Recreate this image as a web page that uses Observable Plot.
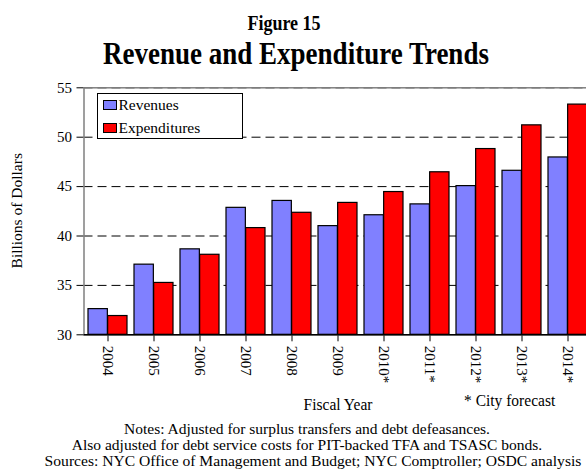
<!DOCTYPE html>
<html><head><meta charset="utf-8">
<script src="https://cdn.jsdelivr.net/npm/d3@7"></script>
<script src="https://cdn.jsdelivr.net/npm/@observablehq/plot@0.6"></script>
<style>
html,body{margin:0;padding:0;width:586px;height:470px;overflow:hidden;background:#fff;}
#wrap{position:relative;width:586px;height:470px;overflow:hidden;font-family:"Liberation Serif","Times New Roman",serif;color:#000;}
.t{position:absolute;white-space:nowrap;line-height:1;}
.legend{position:absolute;background:#fff;border:1px solid #000;box-sizing:border-box;}
.sw{position:absolute;width:14px;height:10px;border:1px solid #000;box-sizing:border-box;}
</style></head>
<body><div id="wrap"></div>
<script>
// ---- data ----
const yearLabels = ["2004","2005","2006","2007","2008","2009","2010*","2011*","2012*","2013*","2014*"];
const revenues = [32.6, 37.1, 38.65, 42.85, 43.55, 41.0, 42.1, 43.2, 45.05, 46.6, 47.95];
const expenditures = [31.9, 35.25, 38.1, 40.8, 42.35, 43.35, 44.45, 46.45, 48.8, 51.2, 53.3];
const seriesNames = ["Revenues", "Expenditures"];
const seriesColors = ["#8080ff", "#ff0000"];
const yTicks = [30, 35, 40, 45, 50, 55];
const titleText = "Figure 15";
const mainTitle = "Revenue and Expenditure Trends";
const yLabel = "Billions of Dollars";
const xLabel = "Fiscal Year";
const forecastNote = "* City forecast";
const notes = [
  "Notes: Adjusted for surplus transfers and debt defeasances.",
  "Also adjusted for debt service costs for PIT-backed TFA and TSASC bonds.",
  "Sources: NYC Office of Management and Budget; NYC Comptroller; OSDC analysis"
];

const rows = yearLabels.map((y, i) => ({year: y, rev: revenues[i], exp: expenditures[i]}));

const wrap = document.getElementById("wrap");
const FONT = '"Liberation Serif","Times New Roman",serif';

function addText(str, o) {
  const d = document.createElement("div");
  d.className = "t";
  d.textContent = str;
  d.style.fontSize = o.size + "px";
  if (o.bold) d.style.fontWeight = "bold";
  d.style.top = (o.baseline - 0.8375 * o.size) + "px";
  if (o.cx != null) {
    d.style.left = (o.cx - 400) + "px";
    d.style.width = "800px";
    d.style.textAlign = "center";
  } else {
    d.style.left = o.left + "px";
  }
  if (o.sy) {
    d.style.transformOrigin = `50% ${0.8375 * o.size}px`;
    d.style.transform = `scaleY(${o.sy})`;
  }
  (o.parent || wrap).appendChild(d);
  return d;
}

// ---- plot ----
const W = 600, H = 330, TOP = 70;
const mL = 83.5, mR = W - 592, mT = 87.3 - TOP, mB = TOP + H - 334.3;
const pi = 0.15, po = 0.075;
const step = (W - mR - mL) / (yearLabels.length - pi + 2 * po);
const half = step * (1 - pi) / 2;
const yDomain = [yTicks[0], yTicks[yTicks.length - 1]];

const chart = Plot.plot({
  width: W, height: H,
  marginLeft: mL, marginRight: mR, marginTop: mT, marginBottom: mB,
  style: {fontFamily: FONT, fontSize: "15px", background: "transparent", maxWidth: "none", overflow: "visible", color: "#000"},
  x: {domain: yearLabels, paddingInner: pi, paddingOuter: po, tickSize: 7, tickPadding: 4, tickRotate: 90, label: null},
  y: {domain: yDomain, ticks: yTicks, tickSize: 7, tickPadding: 5, label: null},
  marks: [
    Plot.ruleY(yTicks.slice(1), {stroke: "#000", strokeWidth: 1, strokeDasharray: "9,5"}),
    Plot.barY(rows, {x: "year", y1: yDomain[0], y2: "rev", fill: seriesColors[0], stroke: "#000", strokeWidth: 1.2, insetRight: half}),
    Plot.barY(rows, {x: "year", y1: yDomain[0], y2: "exp", fill: seriesColors[1], stroke: "#000", strokeWidth: 1.2, insetLeft: half}),
    Plot.frame({stroke: "#808080", strokeWidth: 1.5}),
    Plot.ruleY([yDomain[0]], {stroke: "#000", strokeWidth: 1.5})
  ]
});
chart.style.position = "absolute";
chart.style.left = "0px";
chart.style.top = TOP + "px";
wrap.appendChild(chart);

// ---- titles ----
addText(titleText, {cx: 284, baseline: 30, size: 18, bold: true, sy: 1.15});
addText(mainTitle, {cx: 296, baseline: 65, size: 27, bold: true, sy: 1.15});

// ---- y label ----
const yl = document.createElement("div");
yl.className = "t";
yl.textContent = yLabel;
yl.style.fontSize = "15.5px";
yl.style.left = (17 - 100) + "px";
yl.style.width = "200px";
yl.style.textAlign = "center";
yl.style.top = (210.5 - 7.75) + "px";
yl.style.transform = "rotate(-90deg)";
yl.style.transformOrigin = "50% 50%";
wrap.appendChild(yl);

// ---- legend ----
const lg = document.createElement("div");
lg.className = "legend";
lg.style.left = "97px"; lg.style.top = "92.5px";
lg.style.width = "146px"; lg.style.height = "46px";
wrap.appendChild(lg);
seriesNames.forEach((name, i) => {
  const sw = document.createElement("div");
  sw.className = "sw";
  sw.style.background = seriesColors[i];
  sw.style.left = (101.5 - 97) + "px";
  sw.style.top = (99.3 + i * 22.8 - 92.5) + "px";
  lg.appendChild(sw);
  addText(name, {left: 117.5 - 97, baseline: 109.3 + i * 23 - 92.5, size: 15.5, parent: lg});
});

// ---- bottom texts ----
addText(xLabel, {cx: 338, baseline: 410, size: 15.5, sy: 1.1});
addText(forecastNote, {left: 464, baseline: 406, size: 15.5, sy: 1.1});
addText(notes[0], {cx: 307, baseline: 433.5, size: 15.5});
addText(notes[1], {cx: 307, baseline: 450, size: 15.5});
addText(notes[2], {cx: 313, baseline: 466.5, size: 15.6});
</script>
</body></html>
